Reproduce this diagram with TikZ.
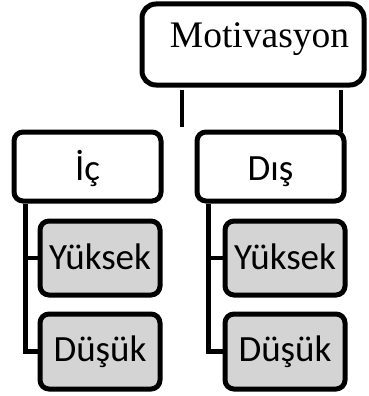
\documentclass[tikz,border=0pt]{standalone}
\usepackage{fontspec}
\setmainfont{Carlito}
\newfontfamily\motfont{Liberation Serif}
\definecolor{boxgray}{RGB}{212,212,212}
\begin{document}
\begin{tikzpicture}[x=1pt,y=-1pt,
  box/.style={draw=black, line width=5pt, rounded corners=9pt, inner sep=0pt,
    font=\fontsize{37}{42}\selectfont, text depth=0pt},
  catbox/.style={box, fill=white, minimum width=147pt, minimum height=69pt, text height=27pt},
  levbox/.style={box, fill=boxgray, minimum width=120pt, text height=22pt},
  conn/.style={draw=black, line width=4.6pt}]
\useasboundingbox (0,0) rectangle (368,396);
% top node
\node[draw=black, line width=5pt, rounded corners=14pt, minimum width=222pt, minimum height=81pt, inner sep=0pt] (mot) at (253,44.5) {};
\node[font=\motfont\fontsize{37.5}{42}\selectfont, anchor=base, inner sep=0pt] (mottext) at (259.5,48) {Motivasyon};
% top connectors
\coordinate (t1) at (182,90);
\coordinate (b1) at (182,127);
\coordinate (t2) at (341,90);
\draw[conn] (t1) -- (b1);
\draw[conn] (t2) -- (t2 |- 0,132);
% categories
\node[catbox] (ic) at (87.5,166.5) {İç};
\node[catbox] (dis) at (270.5,166.5) {Dış};
% levels
\node[levbox, minimum height=74pt] (yk1) at (100,258) {Yüksek};
\node[levbox, minimum height=75pt, text height=20pt] (dk1) at (100,351.5) {Düşük};
\node[levbox, minimum height=74pt] (yk2) at (285,258) {Yüksek};
\node[levbox, minimum height=75pt, text height=20pt] (dk2) at (285,351.5) {Düşük};
% left branch
\draw[conn] ([xshift=14pt]ic.south west) |- (dk1.west);
\draw[conn] ([xshift=14pt]ic.south west |- yk1.west) -- (yk1.west);
% right branch
\draw[conn] ([xshift=14pt]dis.south west) |- (dk2.west);
\draw[conn] ([xshift=14pt]dis.south west |- yk2.west) -- (yk2.west);
\end{tikzpicture}
\end{document}
